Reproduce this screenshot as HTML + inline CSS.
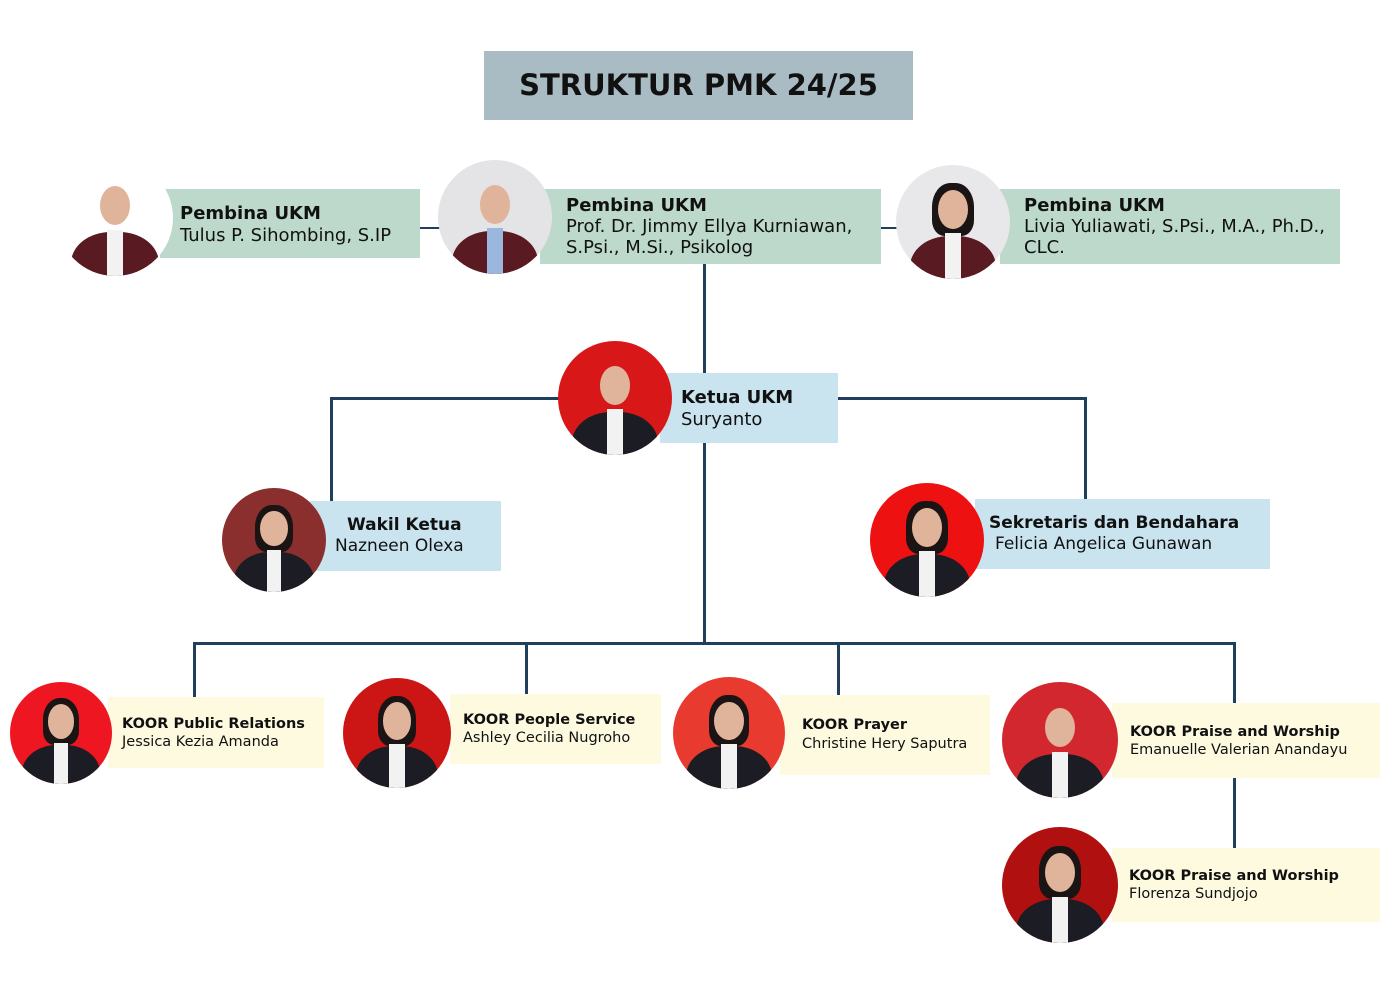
<!DOCTYPE html><html><head><meta charset="utf-8"><style>
body{margin:0;width:1400px;height:991px;background:#fff;position:relative;overflow:hidden;font-family:"DejaVu Sans","Liberation Sans",sans-serif;color:#111}
.a{position:absolute}
.l{position:absolute;background:#1f3f5a}
.box{position:absolute;box-sizing:border-box}
.g{background:#bcd9cb}.b{background:#c9e4ee}.y{background:#fdfae0}
.p{position:absolute;border-radius:50%;overflow:hidden}
.p .h{position:absolute;left:37%;top:22%;width:26%;height:34%;border-radius:50%;background:#e0b49a}
.p .hair{position:absolute;left:32%;top:16%;width:36%;height:46%;border-radius:45% 45% 30% 30%;background:#1b1414}
.p .s{position:absolute;left:12%;top:62%;width:76%;height:60%;border-radius:45% 45% 0 0;background:#1c1c24}
.p .w{position:absolute;left:43%;top:60%;width:14%;height:40%;background:#f2f2f2}
.t{font-weight:bold}
</style></head><body>
<div class="box a" style="left:484px;top:51px;width:429px;height:69px;background:#a9bcc4;text-align:center;line-height:69px;font-size:29px;font-weight:bold;color:#111">STRUKTUR PMK 24/25</div>

<div class="l" style="left:420px;top:227px;width:20px;height:2px"></div>
<div class="l" style="left:881px;top:227px;width:18px;height:2px"></div>
<div class="l" style="left:703px;top:264px;width:3px;height:110px"></div>
<div class="l" style="left:330px;top:397px;width:230px;height:3px"></div>
<div class="l" style="left:838px;top:397px;width:248px;height:3px"></div>
<div class="l" style="left:330px;top:397px;width:3px;height:104px"></div>
<div class="l" style="left:1084px;top:397px;width:3px;height:102px"></div>
<div class="l" style="left:703px;top:443px;width:3px;height:200px"></div>
<div class="l" style="left:193px;top:642px;width:1042px;height:3px"></div>
<div class="l" style="left:193px;top:642px;width:3px;height:56px"></div>
<div class="l" style="left:525px;top:642px;width:3px;height:53px"></div>
<div class="l" style="left:837px;top:642px;width:3px;height:54px"></div>
<div class="l" style="left:1233px;top:642px;width:3px;height:62px"></div>
<div class="l" style="left:1233px;top:778px;width:3px;height:70px"></div>

<div class="box g" style="left:160px;top:189px;width:260px;height:69px;padding:14px 0 0 20px;font-size:18px;line-height:22px"><div class="t">Pembina UKM</div>Tulus P. Sihombing, S.IP</div>
<div class="box g" style="left:540px;top:189px;width:341px;height:75px;padding:6px 0 0 26px;font-size:18px;line-height:21px"><div class="t">Pembina UKM</div>Prof. Dr. Jimmy Ellya Kurniawan,<br>S.Psi., M.Si., Psikolog</div>
<div class="box g" style="left:1000px;top:189px;width:340px;height:75px;padding:6px 0 0 24px;font-size:18px;line-height:21px"><div class="t">Pembina UKM</div>Livia Yuliawati, S.Psi., M.A., Ph.D.,<br>CLC.</div>
<div class="box b" style="left:660px;top:373px;width:178px;height:70px;padding:14px 0 0 21px;font-size:18px;line-height:22px"><div class="t">Ketua UKM</div>Suryanto</div>
<div class="box b" style="left:300px;top:501px;width:201px;height:70px;padding:14px 0 0 35px;font-size:17px;line-height:21px"><div class="t" style="padding-left:12px">Wakil Ketua</div>Nazneen Olexa</div>
<div class="box b" style="left:975px;top:499px;width:295px;height:70px;padding:14px 0 0 14px;font-size:17px;line-height:21px"><div class="t">Sekretaris dan Bendahara</div><span style="padding-left:6px">Felicia Angelica Gunawan</span></div>

<div class="box y" style="left:108px;top:697px;width:216px;height:71px;padding:18px 0 0 14px;font-size:14.5px;line-height:18px"><div class="t">KOOR Public Relations</div>Jessica Kezia Amanda</div>
<div class="box y" style="left:450px;top:694px;width:211px;height:70px;padding:17px 0 0 13px;font-size:14.5px;line-height:18px"><div class="t">KOOR People Service</div>Ashley Cecilia Nugroho</div>
<div class="box y" style="left:780px;top:695px;width:210px;height:80px;padding:21px 0 0 22px;font-size:14.5px;line-height:19px"><div class="t">KOOR Prayer</div>Christine Hery Saputra</div>
<div class="box y" style="left:1112px;top:703px;width:268px;height:75px;padding:20px 0 0 18px;font-size:14.5px;line-height:18px"><div class="t">KOOR Praise and Worship</div>Emanuelle Valerian Anandayu</div>
<div class="box y" style="left:1112px;top:848px;width:268px;height:74px;padding:19px 0 0 17px;font-size:14.5px;line-height:18px"><div class="t">KOOR Praise and Worship</div>Florenza Sundjojo</div>

<div class="p" style="left:57px;top:160px;width:116px;height:116px;background:#fff"><div class="s" style="background:#5a1a22"></div><div class="w"></div><div class="h"></div></div>
<div class="p" style="left:438px;top:160px;width:114px;height:114px;background:#e4e4e6"><div class="s" style="background:#5a1a22"></div><div class="w" style="background:#9cb7dd"></div><div class="h"></div></div>
<div class="p" style="left:896px;top:165px;width:114px;height:114px;background:#e8e8ea"><div class="hair"></div><div class="s" style="background:#5a1a22"></div><div class="w"></div><div class="h"></div></div>
<div class="p" style="left:558px;top:341px;width:114px;height:114px;background:#d81818"><div class="s"></div><div class="w"></div><div class="h"></div></div>
<div class="p" style="left:222px;top:488px;width:104px;height:104px;background:#8b2e2e"><div class="hair"></div><div class="s"></div><div class="w"></div><div class="h"></div></div>
<div class="p" style="left:870px;top:483px;width:114px;height:114px;background:#ee1111"><div class="hair"></div><div class="s"></div><div class="w"></div><div class="h"></div></div>
<div class="p" style="left:10px;top:682px;width:102px;height:102px;background:#ee1620"><div class="hair"></div><div class="s"></div><div class="w"></div><div class="h"></div></div>
<div class="p" style="left:343px;top:678px;width:108px;height:110px;background:#cc1515"><div class="hair"></div><div class="s"></div><div class="w"></div><div class="h"></div></div>
<div class="p" style="left:673px;top:677px;width:112px;height:112px;background:#e83a2e"><div class="hair"></div><div class="s"></div><div class="w"></div><div class="h"></div></div>
<div class="p" style="left:1002px;top:682px;width:116px;height:116px;background:#d32730"><div class="s"></div><div class="w"></div><div class="h"></div></div>
<div class="p" style="left:1002px;top:827px;width:116px;height:116px;background:#b01010"><div class="hair"></div><div class="s"></div><div class="w"></div><div class="h"></div></div>
</body></html>
